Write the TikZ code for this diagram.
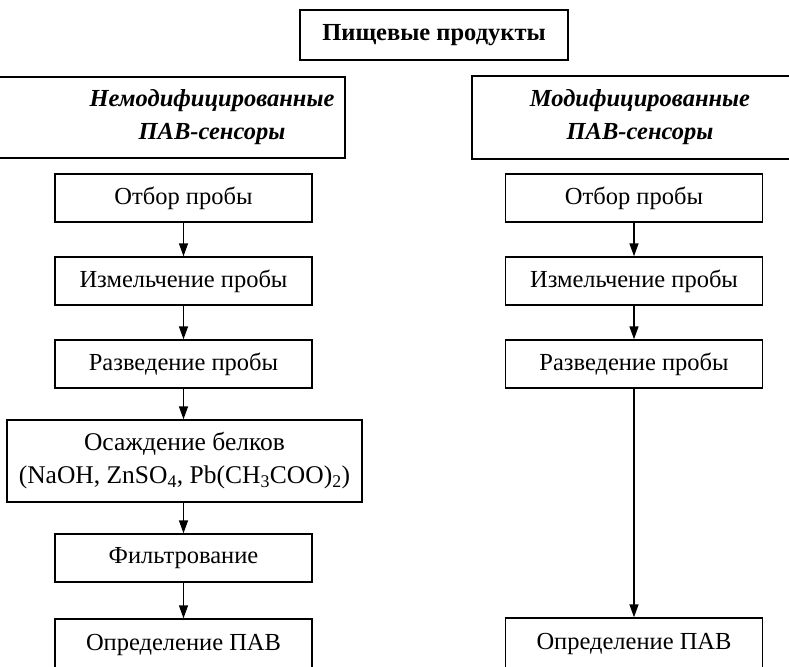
\documentclass[tikz,border=0pt]{standalone}
\usepackage{fontspec}
\setmainfont{Liberation Serif}
\usetikzlibrary{arrows.meta}
\begin{document}
\begin{tikzpicture}[x=1pt,y=-1pt,
  ln/.style={line width=1.4pt},
  box/.style={draw, ln, minimum width=257pt, minimum height=48pt, inner sep=0pt, align=center, font=\fontsize{24.5}{31}\selectfont},
  hdr/.style={align=center, inner sep=0pt, font=\fontsize{24.5}{33}\selectfont\bfseries\itshape},
  arr/.style={ln, -{Triangle[length=13pt,width=9pt]}}]
\useasboundingbox (0,0) rectangle (789,666);
\clip (0,0) rectangle (789,666);
% top
\node[box, minimum width=268pt, minimum height=50pt, font=\fontsize{24.5}{30}\selectfont\bfseries] (top) at (434,35) {Пищевые продукты};
% headers
\node[hdr] (lh) at (212,117) {Немодифицированные\\ПАВ-сенсоры};
\draw[ln] (-5,77) -| (345,158) -- (-5,158);
\node[hdr] (rh) at (640,117) {Модифицированные\\ПАВ-сенсоры};
\draw[ln] (800,76) -| (472,159) -- (800,159);
% left column
\node[box] (l1) at (183.5,198) {Отбор пробы};
\node[box] (l2) at (183.5,281) {Измельчение пробы};
\node[box] (l3) at (183.5,364) {Разведение пробы};
\node[box, minimum width=355pt, minimum height=82pt, font=\fontsize{25.5}{33}\selectfont] (l4) at (184.5,461) {Осаждение белков\\(NaOH, ZnSO\textsubscript{4}, Pb(CH\textsubscript{3}COO)\textsubscript{2})};
\node[box] (l5) at (183.5,558) {Фильтрование};
\node[box, minimum height=52pt] (l6) at (183.5,645) {Определение ПАВ};
% right column
\node[box] (r1) at (634,198) {Отбор пробы};
\node[box] (r2) at (634,281) {Измельчение пробы};
\node[box] (r3) at (634,364) {Разведение пробы};
\node[box, minimum height=52pt] (r6) at (634,644) {Определение ПАВ};
% arrows
\draw[arr] (l1) -- (l2);
\draw[arr] (l2) -- (l3);
\draw[arr] (l3.south) -- (l3.south |- l4.north);
\draw[arr] (l5.north |- l4.south) -- (l5.north);
\draw[arr] (l5) -- (l6);
\draw[arr] (r1) -- (r2);
\draw[arr] (r2) -- (r3);
\draw[arr] (r3) -- (r6);
\end{tikzpicture}
\end{document}
